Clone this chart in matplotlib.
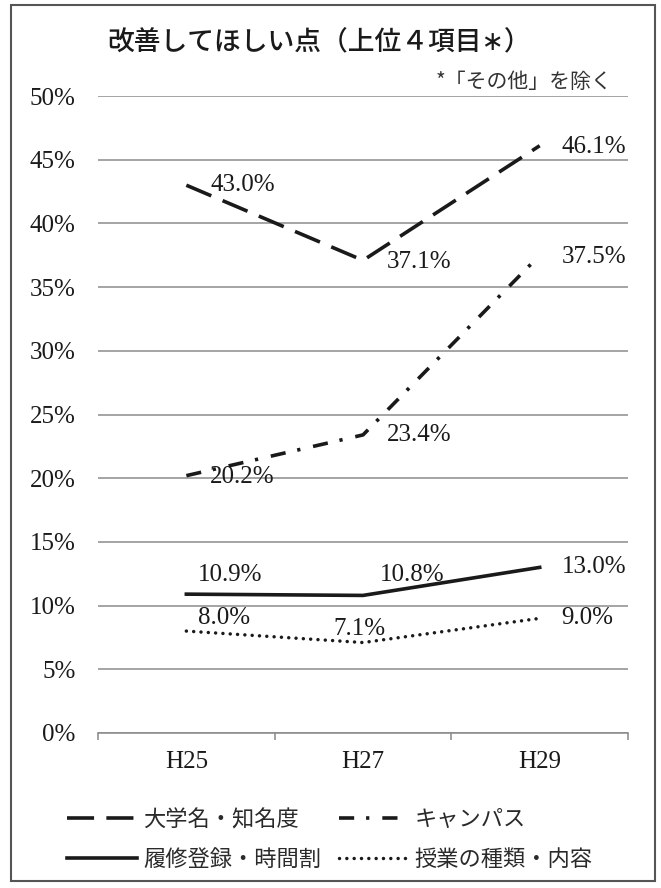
import matplotlib
matplotlib.use("Agg")
import matplotlib.pyplot as plt
from matplotlib.patches import Rectangle

years = ["H25", "H27", "H29"]
names = ["大学名・知名度", "履修登録・時間割", "キャンパス", "授業の種類・内容"]
daigaku = [43.0, 37.1, 46.1]
rishu = [10.9, 10.8, 13.0]
campus = [20.2, 23.4, 37.5]
jugyo = [8.0, 7.1, 9.0]
series = [daigaku, rishu, campus, jugyo]
yticks = [0, 5, 10, 15, 20, 25, 30, 35, 40, 45, 50]

# label offsets in pixels (dx, dy) for each point
offsets = [
    [(24, 0), (24, -2), (22, -1)],
    [(12, 19), (17, 20), (22, 0)],
    [(24, -1), (24, 0), (22, -2)],
    [(12, 13), (-30, 14), (22, 0)],
]
styles = [
    dict(lw=2.6, dashes=(7.5, 3.4)),
    dict(lw=2.6, linestyle="-"),
    dict(lw=2.6, dashes=(4.2, 3.3, 0.9, 3.6)),
    dict(lw=2.5, dashes=(0.01, 2.1), dash_capstyle="round"),
]

serif = "Liberation Serif"
jp = ["Noto Sans CJK JP", "DejaVu Sans"]
col = "#1a1a1a"

fig = plt.figure(figsize=(6.61, 8.88), dpi=100)
ax = fig.add_axes([0.1483, 0.17455, 0.8018, 0.7173])

x = list(range(len(years)))
lines = []
for s, name, st, offs in zip(series, names, styles, offsets):
    ln, = ax.plot(x, s, color=col, label=name, **st)
    lines.append(ln)
    for xi, v, (dx, dy) in zip(x, s, offs):
        ax.annotate("%.1f%%" % v, xy=(xi, v), xytext=(dx, dy), textcoords="offset pixels",
                    ha="left", va="center", fontsize=18, fontfamily=serif, color=col)

ax.set_xlim(-0.5, 2.5)
ax.set_ylim(0, 50)
ax.set_yticks(yticks)
ax.set_yticklabels(["%d%%" % t for t in yticks], fontfamily=serif, fontsize=18, color=col)
ax.set_xticks(x)
ax.set_xticklabels(years, fontfamily=serif, fontsize=18, color=col)
ax.set_xticks([-0.5, 0.5, 1.5, 2.5], minor=True)
ax.tick_params(axis="y", length=0, pad=16)
ax.tick_params(axis="x", which="major", length=0, pad=13)
ax.tick_params(axis="x", which="minor", length=5, width=1.1, color="#888888", direction="out")
ax.grid(axis="y", color="#8c8c8c", lw=1.1)
ax.set_axisbelow(True)
for sp in ["top", "right", "left"]:
    ax.spines[sp].set_visible(False)
ax.spines["bottom"].set_color("#888888")
ax.spines["bottom"].set_linewidth(1.1)

fig.text(0.482, 0.9516, "改善してほしい点（上位４項目∗）", ha="center", va="center",
         fontsize=19.3, family=jp, fontweight="medium", color=col)
fig.text(0.927, 0.9077, "*「その他」を除く", ha="right", va="center",
         fontsize=15, family=jp, color="#333333")

fig.legend(handles=lines, labels=names, ncol=2, loc="upper left",
           bbox_to_anchor=(67 / 661, 1 - 808 / 888), frameon=False,
           borderpad=0, borderaxespad=0, handlelength=3.15, handletextpad=0.27,
           columnspacing=0.8, labelspacing=0.75, prop={"family": jp, "size": 16},
           labelcolor="#2a2a2a")

fig.patches.append(Rectangle((11 / 661, 1 - 881 / 888), 644 / 661, 876 / 888,
                             transform=fig.transFigure, fill=False, edgecolor="#555555", lw=1.5))

fig.savefig("out.png", dpi=100)
